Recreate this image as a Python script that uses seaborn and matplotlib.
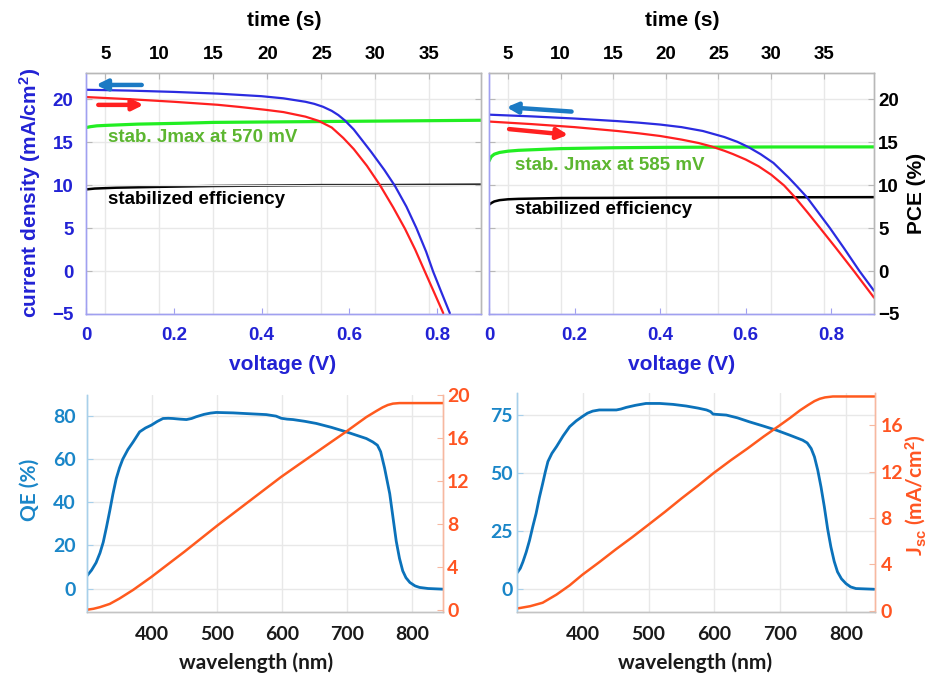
import matplotlib
matplotlib.use("Agg")
import matplotlib.pyplot as plt
import seaborn as sns

# ---------------- J-V sweeps (voltage in V, current density in mA/cm2) ----------------
# device A
v_rev_a = [0, 0.1, 0.2, 0.3, 0.4, 0.45, 0.5, 0.52, 0.54, 0.56, 0.575, 0.59, 0.61, 0.628,
           0.65, 0.68, 0.704, 0.73, 0.753, 0.775, 0.791, 0.81, 0.829]
j_rev_a = [21.1, 21.0, 20.85, 20.65, 20.35, 20.1, 19.7, 19.46, 19.12, 18.64, 18.15, 17.52,
           16.48, 15.3, 13.85, 11.75, 9.9, 7.5, 4.98, 2.25, -0.07, -2.5, -4.9]
v_fwd_a = [0, 0.1, 0.2, 0.3, 0.35, 0.41, 0.45, 0.5, 0.53, 0.56, 0.586, 0.61, 0.64, 0.67,
           0.70, 0.727, 0.75, 0.772, 0.795, 0.814]
j_fwd_a = [20.25, 20.0, 19.7, 19.35, 19.1, 18.76, 18.5, 17.97, 17.48, 16.7, 15.5, 14.2, 12.25,
           9.98, 7.4, 4.9, 2.5, -0.05, -2.7, -4.9]

# device B
v_rev_b = [0, 0.1, 0.2, 0.3, 0.35, 0.4, 0.45, 0.5, 0.55, 0.58, 0.606, 0.635, 0.665, 0.70,
           0.72, 0.743, 0.77, 0.797, 0.83, 0.866, 0.9]
j_rev_b = [18.2, 18.0, 17.75, 17.45, 17.27, 17.05, 16.75, 16.3, 15.6, 15.05, 14.44, 13.6,
           12.58, 10.9, 9.85, 8.6, 6.8, 5.0, 2.65, 0.0, -2.3]
v_fwd_b = [0, 0.1, 0.2, 0.3, 0.35, 0.4, 0.45, 0.49, 0.52, 0.55, 0.57, 0.60, 0.63, 0.66,
           0.69, 0.715, 0.745, 0.774, 0.81, 0.853, 0.9]
j_fwd_b = [17.4, 17.1, 16.75, 16.3, 16.03, 15.72, 15.3, 14.9, 14.5, 14.0, 13.62, 12.98, 12.2,
           11.2, 9.95, 8.6, 6.8, 5.0, 2.75, 0.0, -3.1]

# ---------------- stabilized tracking (time in s) ----------------
t_jmax_a = [3.2, 3.6, 4.2, 5, 6, 8, 10, 12, 15, 20, 25, 30, 35, 39.8]
jmax_a = [16.7, 16.8, 16.9, 16.95, 17.0, 17.1, 17.15, 17.2, 17.3, 17.35, 17.4, 17.45, 17.5, 17.55]
t_pce_a = [3.2, 4, 5, 6, 8, 10, 15, 20, 25, 30, 39.8]
pce_a = [9.5, 9.6, 9.65, 9.7, 9.75, 9.8, 9.9, 9.95, 10.0, 10.0, 10.05]

t_jmax_b = [3.2, 3.4, 3.7, 4.2, 5, 6, 8, 10, 15, 20, 25, 30, 39.8]
jmax_b = [12.8, 13.3, 13.6, 13.8, 13.95, 14.05, 14.15, 14.25, 14.35, 14.4, 14.42, 14.44, 14.45]
t_pce_b = [3.2, 3.4, 3.7, 4.2, 5, 6, 8, 10, 15, 20, 30, 39.8]
pce_b = [7.7, 7.9, 8.1, 8.25, 8.35, 8.4, 8.45, 8.5, 8.52, 8.55, 8.58, 8.6]

labels_jmax = ["stab. Jmax at 570 mV", "stab. Jmax at 585 mV"]
label_pce = "stabilized efficiency"

# ---------------- external quantum efficiency ----------------
wl_a = [300, 307, 314, 320, 325, 330, 335, 340, 345, 350, 355, 363, 371, 381, 390, 399, 408,
        417, 425, 432, 443, 453, 461, 468, 480, 490, 499, 525, 550, 576, 591, 599, 608, 617,
        635, 653, 676, 699, 715, 730, 740, 747, 752, 758, 762, 766, 771, 776, 781, 786, 791,
        797, 805, 812, 825, 848]
qe_a = [5.9, 8.5, 12, 16.5, 21.5, 28.5, 36, 44, 51, 56, 60, 64.5, 68, 72.7, 74.5, 75.8, 77.5,
        78.9, 79.0, 78.9, 78.6, 78.4, 78.9, 79.7, 80.8, 81.4, 81.7, 81.5, 81.1, 80.7, 80, 79,
        78.6, 78.4, 77.6, 76.6, 74.8, 72.7, 71.1, 69.6, 68, 66.5, 63.5, 56, 50, 44, 33, 22, 14,
        8.2, 5, 2.8, 1.2, 0.5, 0, -0.3]
wl_jsc_a = [300, 310, 320, 335, 350, 371, 399, 425, 450, 475, 500, 525, 550, 575, 599, 625,
            650, 675, 699, 715, 730, 745, 755, 763, 771, 781, 848]
jsc_a = [0.06, 0.15, 0.3, 0.6, 1.1, 1.9, 3.1, 4.3, 5.45, 6.65, 7.85, 9.0, 10.15, 11.3, 12.4,
         13.5, 14.55, 15.6, 16.6, 17.3, 17.95, 18.5, 18.85, 19.07, 19.2, 19.25, 19.25]

wl_b = [300, 305, 309, 314, 319, 324, 329, 334, 339, 343, 347, 353, 360, 370, 380, 390, 399,
        407, 415, 425, 436, 451, 458, 466, 480, 496, 517, 537, 557, 575, 588, 594, 598, 608,
        618, 635, 653, 674, 694, 714, 734, 741, 747, 752, 757, 762, 767, 772, 777, 782, 787,
        793, 800, 807, 815, 843]
qe_b = [7, 9, 11.8, 16, 21, 27, 32.6, 39.5, 45.5, 50.5, 55, 58.5, 61.4, 66, 70, 72.5, 74.3,
        75.8, 76.7, 77.2, 77.2, 77.2, 77.6, 78.3, 79.2, 80, 80, 79.6, 78.9, 78, 77.2, 76.5,
        75.4, 75.2, 75, 73.8, 72.1, 70.3, 68.5, 66.4, 64.2, 63, 60.6, 57, 51.3, 44, 35.5, 26,
        18.2, 12, 7.5, 4.5, 2.4, 1, 0.3, 0]
wl_jsc_b = [300, 320, 339, 360, 380, 399, 425, 450, 475, 499, 525, 550, 575, 599, 625, 650,
            675, 699, 715, 730, 742, 752, 760, 768, 780, 843]
jsc_b = [0.2, 0.4, 0.7, 1.4, 2.2, 3.1, 4.2, 5.3, 6.35, 7.4, 8.55, 9.7, 10.8, 11.9, 13.0, 14.0,
         15.05, 16.0, 16.65, 17.3, 17.75, 18.1, 18.3, 18.42, 18.5, 18.5]

# ---------------- style ----------------
sns.set_style("white")
plt.rcParams["font.family"] = ["Liberation Sans", "DejaVu Sans"]
plt.rcParams["font.weight"] = "bold"
plt.rcParams["mathtext.fontset"] = "custom"
plt.rcParams["mathtext.rm"] = "Liberation Sans:bold"
plt.rcParams["mathtext.it"] = "Liberation Sans:bold:italic"
plt.rcParams["mathtext.bf"] = "Liberation Sans:bold"

W, H = 929, 679
fig = plt.figure(figsize=(W / 100, H / 100), dpi=100)


def rect(x0, y0, x1, y1):
    return [x0 / W, 1 - y1 / H, (x1 - x0) / W, (y1 - y0) / H]


def ftext(x, y, s, **kw):
    fig.text(x / W, 1 - y / H, s, ha="center", va="center", **kw)


C_JV_BLUE = "#2b2be0"
C_RED = "#ff2020"
C_GREEN = "#22ee22"
C_GREEN_TXT = "#5cb630"
C_ARROW_BLUE = "#1b7ac4"
C_AXBLUE = "#2222d4"
C_SPINE_BLUE = "#a0a0f0"
C_SPINE_GRAY = "#b8b8b8"
C_GRID = "#e8e8e8"

C_QE = "#0b72ba"
C_QE_TXT = "#1a86c8"
C_OR = "#ff5a1e"
C_OR_TXT = "#ff5522"

TICK_FS = 13.5
LAB_FS = 15


def jv_panel(pos, v_rev, j_rev, v_fwd, j_fwd, t_jm, jm, t_pc, pc, jm_label,
             arr_blue, arr_red, jm_txt_xy, pce_txt_xy, left_labels):
    ax = fig.add_axes(rect(*pos))
    axt = ax.twiny()
    # voltage axes on top so the J-V curves sit above the tracking traces
    ax.set_zorder(axt.get_zorder() + 1)
    ax.patch.set_visible(False)
    axt.patch.set_facecolor("white")

    ax.set_xlim(0, 0.9)
    ax.set_ylim(-5, 23.05)
    axt.set_xlim(3.2, 39.8)

    axt.xaxis.grid(True, color=C_GRID, lw=1.0)
    axt.set_axisbelow(True)
    ax.yaxis.grid(True, color=C_GRID, lw=1.0)
    ax.set_axisbelow(True)

    sns.lineplot(x=t_jm, y=jm, ax=axt, color=C_GREEN, lw=2.3, estimator=None, sort=False)
    sns.lineplot(x=t_pc, y=pc, ax=axt, color="black", lw=1.8, estimator=None, sort=False)
    sns.lineplot(x=v_fwd, y=j_fwd, ax=ax, color=C_RED, lw=1.6, estimator=None, sort=False)
    sns.lineplot(x=v_rev, y=j_rev, ax=ax, color=C_JV_BLUE, lw=1.6, estimator=None, sort=False)

    for (x0, y0, x1, y1), c in ((arr_blue, C_ARROW_BLUE), (arr_red, C_RED)):
        ax.annotate("", xy=(x1, y1), xytext=(x0, y0),
                    arrowprops=dict(arrowstyle="-|>", color=c, lw=3.2, mutation_scale=16,
                                    shrinkA=0, shrinkB=0))

    ax.text(*jm_txt_xy, jm_label, color=C_GREEN_TXT, fontsize=TICK_FS, fontweight="bold",
            ha="left", va="center")
    ax.text(*pce_txt_xy, label_pce, color="black", fontsize=TICK_FS, fontweight="bold",
            ha="left", va="center")

    ax.set_xticks([0, 0.2, 0.4, 0.6, 0.8])
    ax.set_xticklabels(["0", "0.2", "0.4", "0.6", "0.8"])
    ax.set_yticks([-5, 0, 5, 10, 15, 20])
    axt.set_xticks([5, 10, 15, 20, 25, 30, 35])
    for a in (ax, axt):
        a.set_xlabel("")
        a.set_ylabel("")

    ax.tick_params(axis="x", direction="in", length=4, width=0.8, color=C_SPINE_BLUE,
                   labelsize=TICK_FS, labelcolor=C_AXBLUE, pad=9, top=False)
    axt.tick_params(axis="x", direction="in", length=4, width=0.8, color=C_SPINE_GRAY,
                    labelsize=TICK_FS, labelcolor="black", pad=7, bottom=False)
    if left_labels:
        ax.tick_params(axis="y", direction="in", length=4, width=0.8, color=C_SPINE_GRAY,
                       labelsize=TICK_FS, labelcolor=C_AXBLUE, pad=9,
                       left=True, right=True, labelleft=True, labelright=False)
    else:
        ax.tick_params(axis="y", direction="in", length=4, width=0.8, color=C_SPINE_GRAY,
                       labelsize=TICK_FS, labelcolor="black", pad=3,
                       left=True, right=True, labelleft=False, labelright=True)
    for lab in ax.get_xticklabels() + ax.get_yticklabels() + axt.get_xticklabels():
        lab.set_fontweight("bold")

    for a in (ax, axt):
        for side in ("top", "right"):
            a.spines[side].set_color(C_SPINE_GRAY)
            a.spines[side].set_linewidth(1.0)
        for side in ("left", "bottom"):
            a.spines[side].set_color(C_SPINE_BLUE)
            a.spines[side].set_linewidth(1.0)
    return ax


jv_panel((86, 73, 481, 314), v_rev_a, j_rev_a, v_fwd_a, j_fwd_a,
         t_jmax_a, jmax_a, t_pce_a, pce_a, labels_jmax[0],
         (0.127, 21.66, 0.023, 21.66), (0.028, 19.34, 0.131, 19.34),
         (0.049, 15.5), (0.049, 8.35), True)
jv_panel((489, 73, 874, 314), v_rev_b, j_rev_b, v_fwd_b, j_fwd_b,
         t_jmax_b, jmax_b, t_pce_b, pce_b, labels_jmax[1],
         (0.193, 18.56, 0.041, 19.07), (0.047, 16.52, 0.185, 15.86),
         (0.06, 12.3), (0.06, 7.17), False)

ftext(284, 20, "time (s)", fontsize=LAB_FS, fontweight="bold", color="black")
ftext(682, 20, "time (s)", fontsize=LAB_FS, fontweight="bold", color="black")
ftext(283, 365, "voltage (V)", fontsize=LAB_FS, fontweight="bold", color=C_AXBLUE)
ftext(682, 365, "voltage (V)", fontsize=LAB_FS, fontweight="bold", color=C_AXBLUE)
ftext(30, 193, "current density (mA/cm$^{2}$)", fontsize=LAB_FS, fontweight="bold",
      color=C_AXBLUE, rotation=90)
ftext(917, 193, "PCE (%)", fontsize=LAB_FS, fontweight="bold", color="black", rotation=90)


# ---------------- EQE panels ----------------
FONT_B = ["Lato", "DejaVu Sans"]
TICK_FS_B = 14
LAB_FS_B = 15


def eqe_panel(pos, wl, qe, wlj, jsc, xlim, qlim, qticks, jlim, jticks, pad_left, pad_right):
    ax = fig.add_axes(rect(*pos))
    axr = ax.twinx()
    ax.set_xlim(*xlim)
    ax.set_ylim(*qlim)
    axr.set_ylim(*jlim)

    ax.grid(True, color=C_GRID, lw=1.0)
    ax.set_axisbelow(True)

    sns.lineplot(x=wl, y=qe, ax=ax, color=C_QE, lw=2.0, estimator=None, sort=False)
    sns.lineplot(x=wlj, y=jsc, ax=axr, color=C_OR, lw=1.8, estimator=None, sort=False)

    ax.set_xticks([400, 500, 600, 700, 800])
    ax.set_yticks(qticks)
    axr.set_yticks(jticks)
    for a in (ax, axr):
        a.set_xlabel("")
        a.set_ylabel("")

    ax.tick_params(axis="x", direction="in", length=4, width=0.8, color="#c0c0c0",
                   labelsize=TICK_FS_B, labelcolor="#1a1a1a", pad=10)
    ax.tick_params(axis="y", direction="in", length=4, width=0.8, color="#a8d0ea",
                   labelsize=TICK_FS_B, labelcolor=C_QE_TXT, pad=pad_left)
    axr.tick_params(axis="y", direction="in", length=4, width=0.8, color="#f7b8a0",
                    labelsize=TICK_FS_B, labelcolor=C_OR_TXT, pad=pad_right)
    for lab in ax.get_xticklabels() + ax.get_yticklabels() + axr.get_yticklabels():
        lab.set_fontweight("bold")
        lab.set_family(FONT_B)

    for a in (ax, axr):
        a.spines["top"].set_visible(False)
        a.spines["bottom"].set_color("#c4c4c4")
        a.spines["left"].set_color("#a8d0ea")
        a.spines["right"].set_color("#f7b8a0")
        for s in a.spines.values():
            s.set_linewidth(1.0)
    return ax


eqe_panel((87, 395, 443, 612), wl_a, qe_a, wl_jsc_a, jsc_a,
          (300, 848), (-10.9, 89.8), [0, 20, 40, 60, 80], (-0.15, 20.0),
          [0, 4, 8, 12, 16, 20], 8, 3)
eqe_panel((517, 393, 875, 612), wl_b, qe_b, wl_jsc_b, jsc_b,
          (300, 844), (-9.8, 84.5), [0, 25, 50, 75], (-0.1, 18.8),
          [0, 4, 8, 12, 16], 3, 4)

ftext(256, 663, "wavelength (nm)", fontsize=LAB_FS_B, fontweight="bold", color="#1a1a1a",
      family=FONT_B)
ftext(695, 663, "wavelength (nm)", fontsize=LAB_FS_B, fontweight="bold", color="#1a1a1a",
      family=FONT_B)
ftext(30, 490, "QE (%)", fontsize=LAB_FS_B, fontweight="bold", color=C_QE_TXT,
      rotation=90, family=FONT_B)
ftext(916, 495, r"J$_{\mathrm{sc}}$ (mA/cm$^{2}$)", fontsize=LAB_FS_B, fontweight="bold",
      color=C_OR_TXT, rotation=90, family=FONT_B)

fig.savefig("out.png", dpi=100, facecolor="white")
